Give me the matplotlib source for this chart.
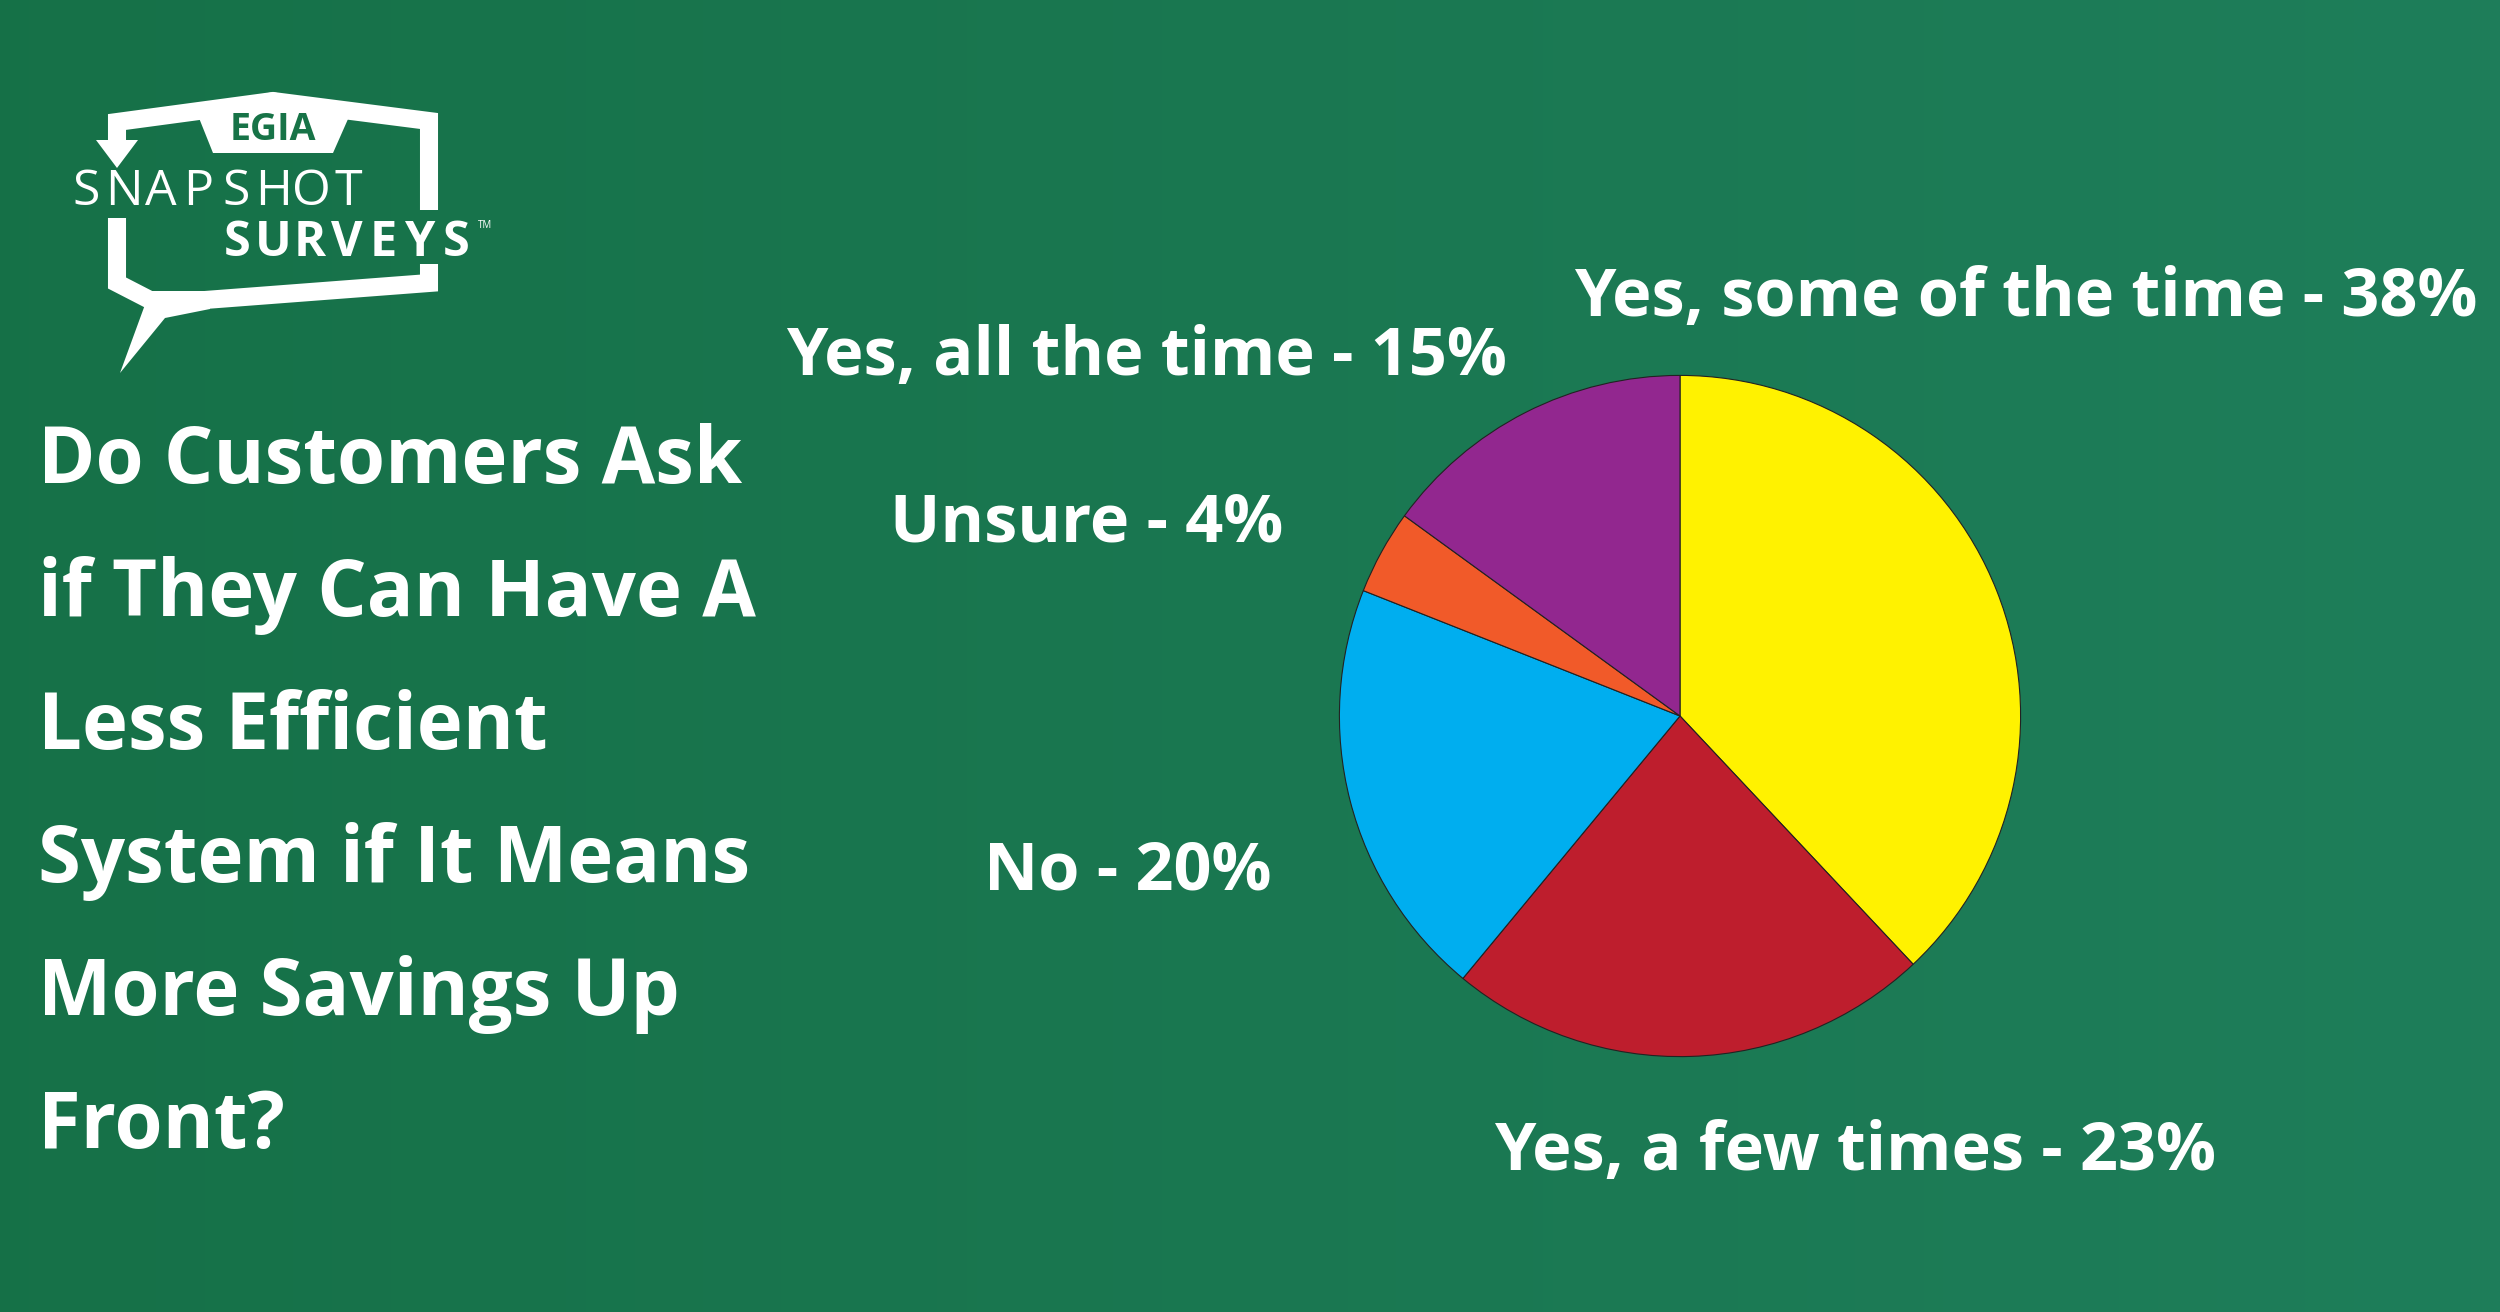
import matplotlib.pyplot as plt
import numpy as np

# survey answers, clockwise from 12 o'clock
labels = ["Yes, some of the time", "Yes, a few times", "No", "Unsure", "Yes, all the time"]
shares = [38, 23, 20, 4, 15]
colors = ["#fff200", "#be1e2d", "#00aeef", "#f15a29", "#92278f"]

# label placement (pixel coords, left edge / baseline)
label_x = [1574, 1494, 984, 890, 786]
label_y = [316, 1170, 890, 542, 375]

question = ["Do Customers Ask", "if They Can Have A", "Less Efficient",
            "System if It Means", "More Savings Up", "Front?"]

W, H = 2500, 1312
fig = plt.figure(figsize=(25, 13.12), dpi=100)

# background + text layer in pixel coords
bg = fig.add_axes([0, 0, 1, 1])
bg.set_xlim(0, W)
bg.set_ylim(H, 0)
bg.axis("off")
c0 = np.array([0.086, 0.443, 0.282])
c1 = np.array([0.118, 0.494, 0.353])
t = np.linspace(0, 1, 256)[None, :, None]
grad = c0 + (c1 - c0) * t
grad = np.repeat(grad, 2, axis=0)
bg.imshow(grad, extent=[0, W, H, 0], aspect="auto", zorder=0)

# question
for i, line in enumerate(question):
    bg.text(38, 483 + i * 133, line, color="white", fontsize=56,
            fontweight="bold", family="Open Sans", va="baseline", ha="left")

# logo
lw = 13
kw = dict(color="white", lw=lw, solid_joinstyle="miter", solid_capstyle="butt")
bg.plot([117, 117, 273, 429, 429], [148, 122, 101, 121, 210], **kw)
bg.plot([429, 429, 205], [264, 283, 300], **kw)
bg.plot([117, 117, 150], [218, 283, 300], **kw)
bg.fill([96, 138, 117], [140, 140, 168], color="white", lw=0)
bg.fill([195, 273, 352, 333, 213], [108, 92, 110, 153, 153], color="white", lw=0)
bg.fill([150, 210, 210, 165, 120], [291, 291, 309, 318, 373], color="white", lw=0)
bg.text(273, 140, "EGIA", color="#177347", fontsize=27, fontweight="bold",
        family="Open Sans", ha="center", va="baseline")
for i, ch in enumerate("SNAPSHOT"):
    bg.text(86 + i * 37.5, 205, ch, color="white", fontsize=36, fontweight="normal",
            family="Open Sans", ha="center", va="baseline")
for i, ch in enumerate("SURVEYS"):
    bg.text(237 + i * 36.5, 256, ch, color="white", fontsize=35, fontweight="bold",
            family="Open Sans", ha="center", va="baseline")
bg.text(478, 228, "TM", color="white", fontsize=7, family="Open Sans",
        ha="left", va="baseline")

# pie chart
cx, cy, r = 1680, 716, 344
ax = fig.add_axes([(cx - r) / W, 1 - (cy + r) / H, 2 * r / W, 2 * r / H])
ax.pie(shares, colors=colors, startangle=90, counterclock=False,
       wedgeprops=dict(edgecolor="#222222", linewidth=0.8))
ax.set_xlim(-1.01, 1.01)
ax.set_ylim(-1.01, 1.01)
ax.axis("off")

for lab, v, x, y in zip(labels, shares, label_x, label_y):
    bg.text(x, y, f"{lab} - {v}%", color="white", fontsize=48, fontweight="bold",
            family="Open Sans", ha="left", va="baseline")

fig.savefig("out.png", dpi=100)
